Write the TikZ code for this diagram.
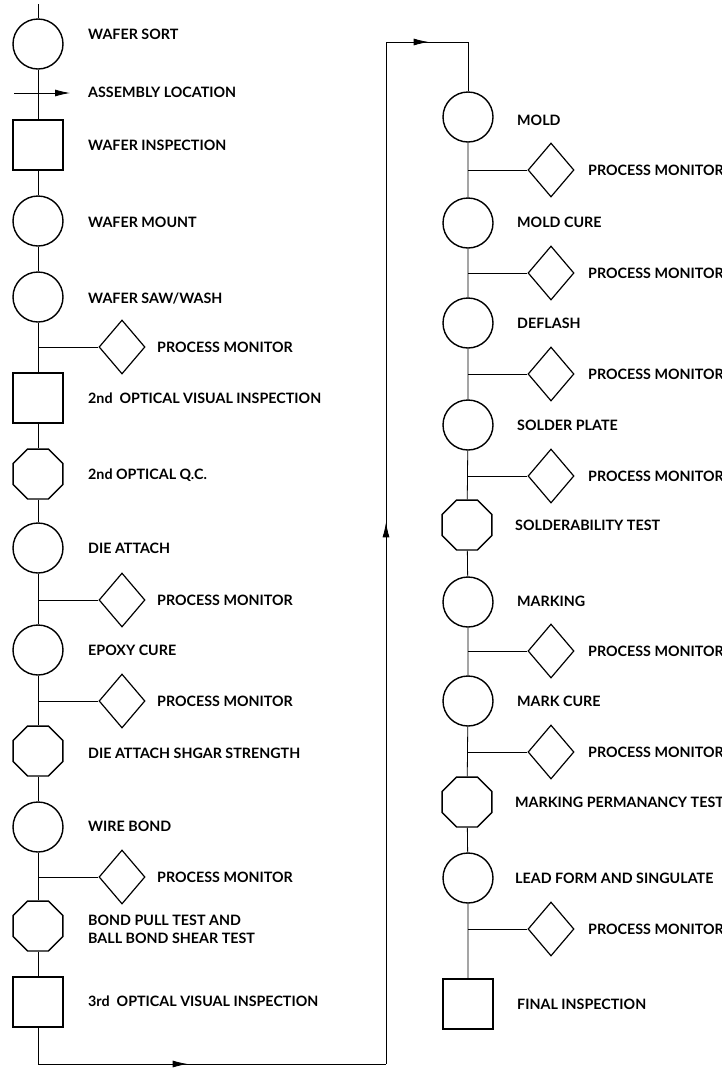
\documentclass[tikz,border=0pt]{standalone}
\usepackage{fontspec}
\setmainfont{Lato}
\usetikzlibrary{shapes.geometric,arrows.meta,decorations.markings}
\begin{document}
\begin{tikzpicture}[x=1pt,y=-1pt,
  shp/.style={draw,line width=1.4pt,inner sep=0pt,fill=white},
  circ/.style={shp,circle,minimum size=50pt},
  sqr/.style={shp,rectangle,minimum size=50pt},
  oct/.style={shp,regular polygon,regular polygon sides=8,minimum size=54pt},
  dia/.style={shp,diamond,minimum width=46pt,minimum height=54pt,line width=1.2pt},
  lbl/.style={anchor=base west,inner sep=0pt,align=left,font=\bfseries\fontsize{14.3}{18}\selectfont},
  conn/.style={line width=0.8pt},
  arr/.style={-{Latex[length=15pt,width=7pt]}},
  marrow/.style={postaction={decorate},decoration={markings,mark=at position #1 with {\arrow{Latex[length=15pt,width=7pt]}}}}
]
\useasboundingbox (0,0) rectangle (721,1069);
\clip (0,0) rectangle (721,1069);
% ---------- left column ----------
\coordinate (top) at (38,4);
\node[circ] (ws) at (38,44) {};
\node[lbl] (wsl) at (88,39) {WAFER SORT};
\coordinate (asmA) at (14,93);
\coordinate (asmB) at (70,93);
\node[lbl] (asml) at (88,97) {ASSEMBLY LOCATION};
\node[sqr] (wi) at (38,145) {};
\node[lbl] (wil) at (88,150) {WAFER INSPECTION};
\node[circ] (wm) at (38,221) {};
\node[lbl] (wml) at (88,227) {WAFER MOUNT};
\node[circ] (wsw) at (38,297) {};
\node[lbl] (wswl) at (88,303) {WAFER SAW/WASH};
\coordinate (j1) at (38,347);
\node[dia] (pm1) at (122,347) {};
\node[lbl] (pm1l) at (157,352) {PROCESS MONITOR};
\node[sqr] (ovi2) at (38,398) {};
\node[lbl] (ovi2l) at (88,403) {2nd\ \ OPTICAL VISUAL INSPECTION};
\node[oct] (oqc) at (38,474) {};
\node[lbl] (oqcl) at (88,479) {2nd OPTICAL Q.C.};
\node[circ] (da) at (38,548) {};
\node[lbl] (dal) at (88,553) {DIE ATTACH};
\coordinate (j2) at (38,600);
\node[dia] (pm2) at (122,600) {};
\node[lbl] (pm2l) at (157,605) {PROCESS MONITOR};
\node[circ] (ec) at (38,650) {};
\node[lbl] (ecl) at (88,655) {EPOXY CURE};
\coordinate (j3) at (38,701);
\node[dia] (pm3) at (122,701) {};
\node[lbl] (pm3l) at (157,706) {PROCESS MONITOR};
\node[oct] (dass) at (38,751) {};
\node[lbl] (dassl) at (88,758) {DIE ATTACH SHGAR STRENGTH};
\node[circ] (wb) at (38,827) {};
\node[lbl] (wbl) at (88,831) {WIRE BOND};
\coordinate (j4) at (38,877);
\node[dia] (pm4) at (122,877) {};
\node[lbl] (pm4l) at (157,882) {PROCESS MONITOR};
\node[oct] (bpt) at (38,926) {};
\node[lbl] (bptl) at (88,925) {BOND PULL TEST AND};
\node[lbl] (bptl2) at (88,943) {BALL BOND SHEAR TEST};
\node[sqr] (ovi3) at (38,1002) {};
\node[lbl] (ovi3l) at (88,1006) {3rd\ \ OPTICAL VISUAL INSPECTION};
% ---------- loop ----------
\coordinate (b1) at (38,1064);
\coordinate (b2) at (386,1064);
\coordinate (t1) at (386,42);
\coordinate (t2) at (468,42);
% ---------- right column ----------
\node[circ] (mold) at (468,117) {};
\node[lbl] (moldl) at (517,125) {MOLD};
\coordinate (k1) at (468,170);
\node[dia] (rp1) at (551,170) {};
\node[lbl] (rp1l) at (588,175) {PROCESS MONITOR};
\node[circ] (mc) at (468,223) {};
\node[lbl] (mcl) at (517,227) {MOLD CURE};
\coordinate (k2) at (468,273);
\node[dia] (rp2) at (551,273) {};
\node[lbl] (rp2l) at (588,278) {PROCESS MONITOR};
\node[circ] (df) at (468,323) {};
\node[lbl] (dfl) at (517,328) {DEFLASH};
\coordinate (k3) at (468,374);
\node[dia] (rp3) at (551,374) {};
\node[lbl] (rp3l) at (588,379) {PROCESS MONITOR};
\node[circ] (sp) at (468,425) {};
\node[lbl] (spl) at (517,430) {SOLDER PLATE};
\coordinate (k4) at (468,476);
\node[dia] (rp4) at (551,476) {};
\node[lbl] (rp4l) at (588,481) {PROCESS MONITOR};
\node[oct] (st) at (467,525) {};
\node[lbl] (stl) at (515,530) {SOLDERABILITY TEST};
\node[circ] (mk) at (468,602) {};
\node[lbl] (mkl) at (517,606) {MARKING};
\coordinate (k5) at (468,651);
\node[dia] (rp5) at (551,651) {};
\node[lbl] (rp5l) at (588,656) {PROCESS MONITOR};
\node[circ] (mkc) at (468,701) {};
\node[lbl] (mkcl) at (517,706) {MARK CURE};
\coordinate (k6) at (468,752);
\node[dia] (rp6) at (551,752) {};
\node[lbl] (rp6l) at (588,757) {PROCESS MONITOR};
\node[oct] (mpt) at (467,802) {};
\node[lbl] (mptl) at (515,807) {MARKING PERMANANCY TEST};
\node[circ] (lf) at (468,878) {};
\node[lbl] (lfl) at (515,883) {LEAD FORM AND SINGULATE};
\coordinate (k7) at (468,929);
\node[dia] (rp7) at (551,929) {};
\node[lbl] (rp7l) at (588,934) {PROCESS MONITOR};
\node[sqr] (fi) at (468,1004) {};
\node[lbl] (fil) at (517,1009) {FINAL INSPECTION};
% ---------- connectors ----------
\draw[conn] (top) -- (ws) -- (wi) -- (wm) -- (wsw) -- (ovi2) -- (oqc) -- (da) -- (ec) -- (dass) -- (wb) -- (bpt) -- (ovi3);
\draw[conn,arr] (asmA) -- (asmB);
\draw[conn] (j1) -- (pm1);
\draw[conn] (j2) -- (pm2);
\draw[conn] (j3) -- (pm3);
\draw[conn] (j4) -- (pm4);
\draw[conn] (ovi3) -- (b1);
\draw[conn,marrow=0.43] (b1) -- (b2);
\draw[conn,marrow=0.53] (b2) -- (t1);
\draw[conn,marrow=0.52] (t1) -- (t2);
\draw[conn] (t2) -- (mold);
\draw[conn] (mold) -- (mc) -- (df) -- (sp) -- (st) -- (mk) -- (mkc) -- (mpt) -- (lf) -- (fi);
\draw[conn] (k1) -- (rp1);
\draw[conn] (k2) -- (rp2);
\draw[conn] (k3) -- (rp3);
\draw[conn] (k4) -- (rp4);
\draw[conn] (k5) -- (rp5);
\draw[conn] (k6) -- (rp6);
\draw[conn] (k7) -- (rp7);
\end{tikzpicture}
\end{document}
